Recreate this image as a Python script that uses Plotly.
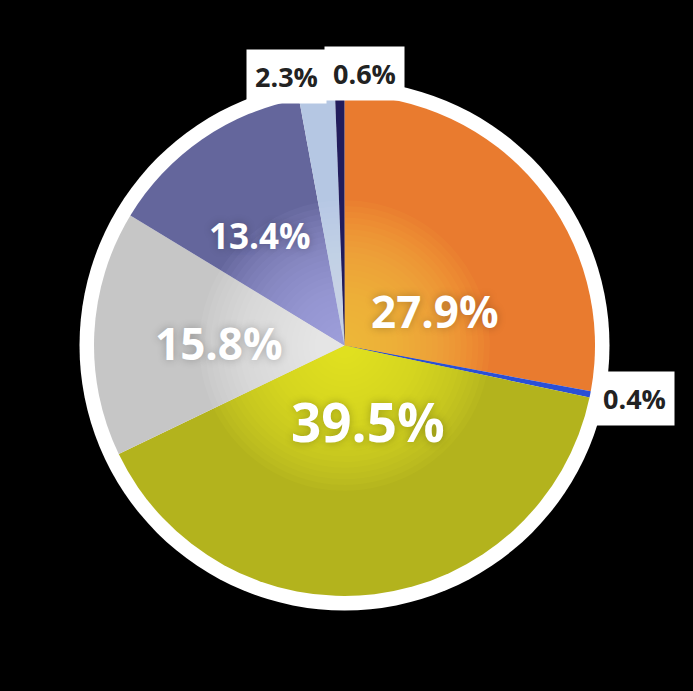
import plotly.graph_objects as go

# slices, clockwise from 12 o'clock
slices = ['A', 'B', 'C', 'D', 'E', 'F', 'G']
shares = [27.9, 0.4, 39.5, 15.8, 13.4, 2.3, 0.6]
colors = ['#E97B2F', '#2A4FD6', '#B3B31D', '#C6C6C6', '#64669C', '#B5C7E3', '#211C5C']
glow_colors = ['#FAC845', '#2A4FD6', '#EEEE2C', '#F2F2F2', '#AEAEEC', '#D3DEF2', '#211C5C']
# label placement (pixel centre in the 693x691 page), font size, inside/outside
label_pos = [(435, 311), (634, 398), (368, 422), (219, 343), (260, 235), (286, 76), (364, 74)]
label_size = [44, 27, 53, 44, 35, 27, 27]
label_inside = [True, False, True, True, True, False, False]

W, H = 693, 691
CX, CY, R = 344.5, 345.5, 250.5


def dom(r):
    return dict(x=[(CX - r) / W, (CX + r) / W], y=[1 - (CY + r) / H, 1 - (CY - r) / H])


fig = go.Figure()
fig.add_trace(go.Pie(
    labels=slices, values=shares, sort=False, direction='clockwise', rotation=0,
    marker=dict(colors=colors, line=dict(width=0)),
    textinfo='none', hoverinfo='label+percent', domain=dom(R), showlegend=False,
))

# fake radial glow: stacked smaller pies in lighter colours
n = 24
for i in range(n):
    r = R * (0.58 - i * 0.023)
    fig.add_trace(go.Pie(
        labels=slices, values=shares, sort=False, direction='clockwise', rotation=0,
        marker=dict(colors=glow_colors, line=dict(width=0)),
        textinfo='none', hoverinfo='skip', domain=dom(r), opacity=0.07,
        showlegend=False,
    ))

# white rim behind the pie
RW = 265
fig.add_shape(type='circle', xref='paper', yref='paper', layer='below',
              x0=(CX - RW) / W, x1=(CX + RW) / W,
              y0=1 - (CY + RW) / H, y1=1 - (CY - RW) / H,
              fillcolor='white', line=dict(width=0))

for v, (px, py), fs, inside in zip(shares, label_pos, label_size, label_inside):
    fig.add_annotation(
        x=px / W, y=1 - py / H, xref='paper', yref='paper', showarrow=False,
        text=f'<b>{v}%</b>', xanchor='center', yanchor='middle',
        font=dict(family='Open Sans', size=fs,
                  color='white' if inside else '#222222',
                  shadow='0px 0px 8px rgba(0,0,0,0.25)' if inside else 'none'),
        bgcolor=None if inside else 'white', borderpad=0 if inside else 8,
    )

fig.update_layout(
    width=W, height=H, margin=dict(l=0, r=0, t=0, b=0),
    paper_bgcolor='black', plot_bgcolor='black',
)

fig.write_html('out.html', config={'displayModeBar': False},
               post_script="document.body.style.margin='0';")
